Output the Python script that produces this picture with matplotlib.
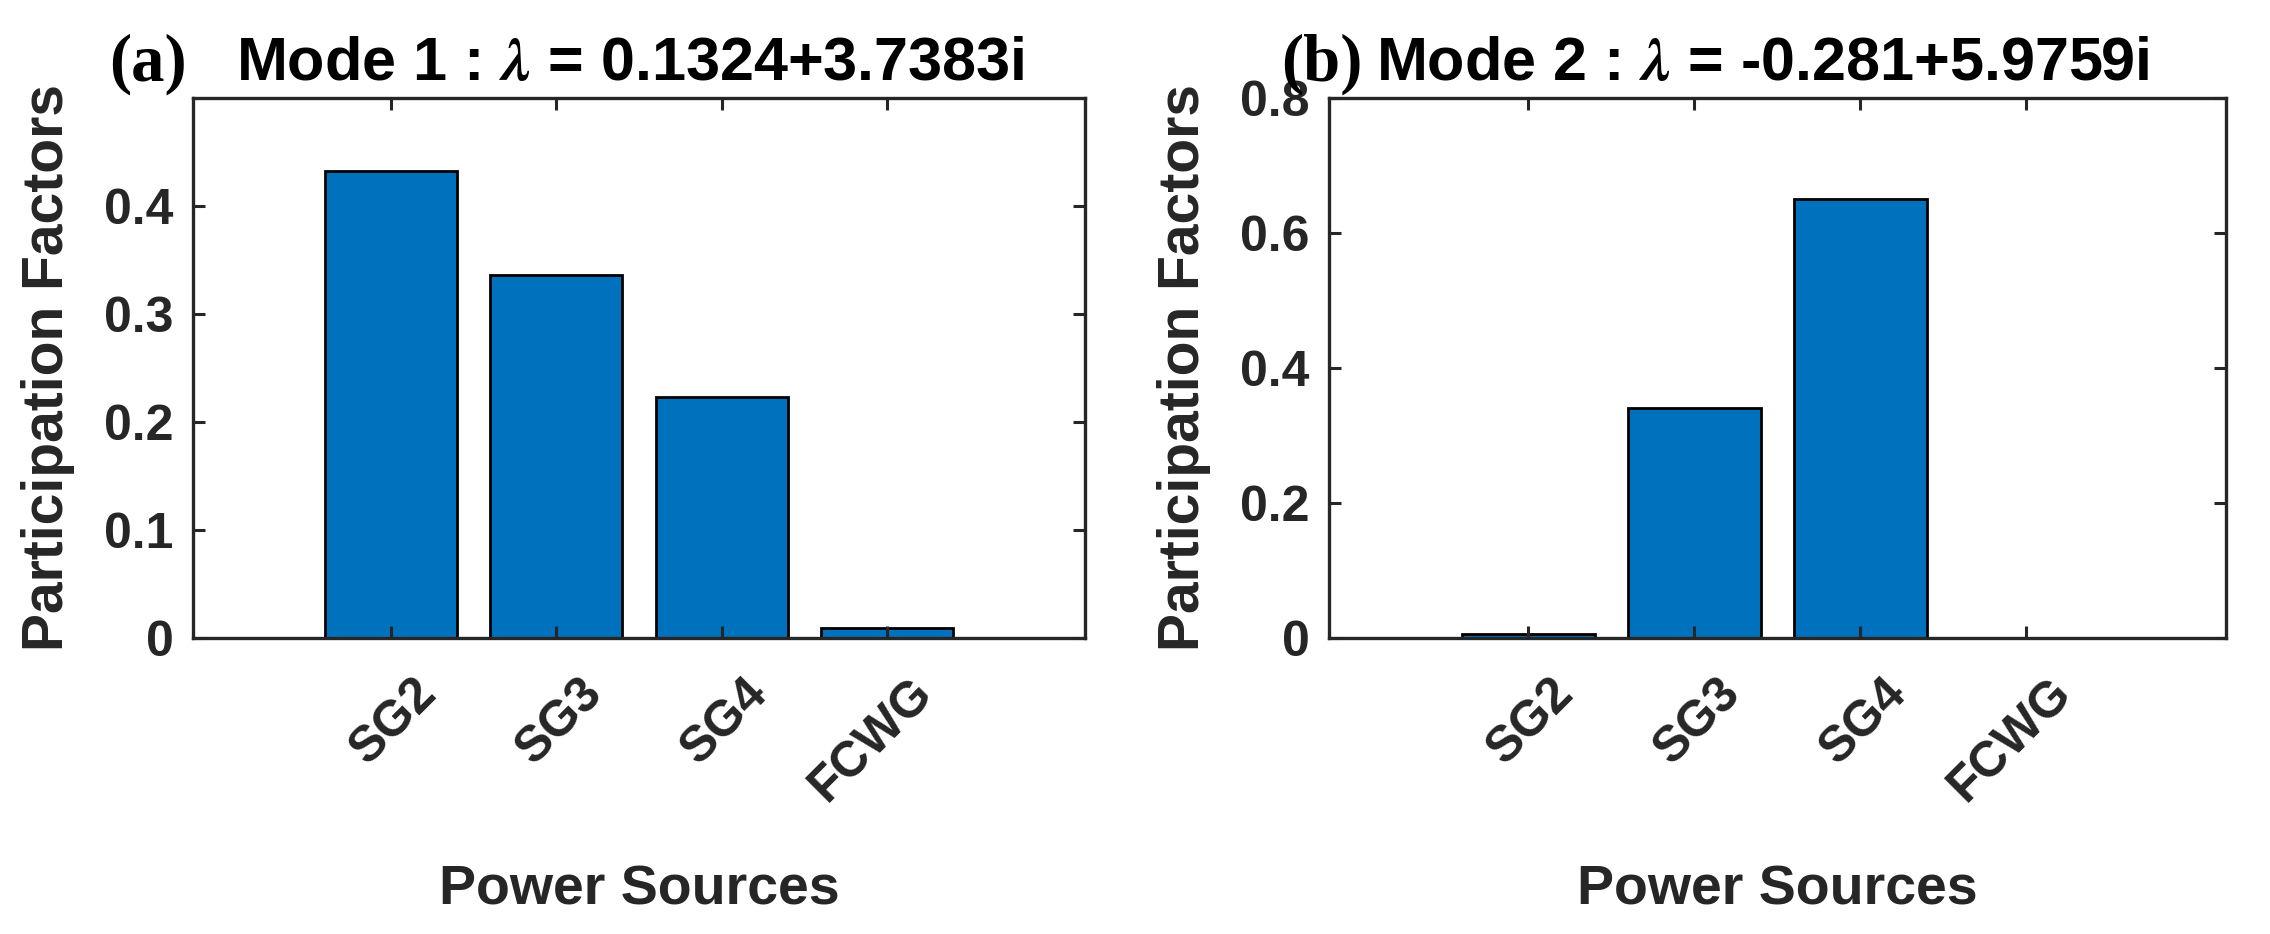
import numpy as np
import matplotlib
matplotlib.use('Agg')
import matplotlib.pyplot as plt
import matplotlib.transforms as mtransforms

plt.rcParams['font.family'] = ['Liberation Sans', 'DejaVu Sans']
plt.rcParams['font.weight'] = 'bold'
plt.rcParams['mathtext.fontset'] = 'stix'

sources = ['SG2', 'SG3', 'SG4', 'FCWG']
positions = [1, 2, 3, 4]
mode1_pf = [0.432, 0.336, 0.223, 0.009]
mode2_pf = [0.006, 0.340, 0.650, 0.0]

panel_tags = ['(a)', '(b)']
mode_titles = [r'Mode 1 : $\lambda$ = 0.1324+3.7383i',
               r'Mode 2 : $\lambda$ = -0.281+5.9759i']
y_limits = [0.5, 0.8]
y_ticks = [[0, 0.1, 0.2, 0.3, 0.4], [0, 0.2, 0.4, 0.6, 0.8]]
y_ticklabels = [['0', '0.1', '0.2', '0.3', '0.4'], ['0', '0.2', '0.4', '0.6', '0.8']]

TXT = '#262626'
BAR = '#0072BD'

fig = plt.figure(figsize=(22.7, 9.34), dpi=100)
fig.patch.set_facecolor('white')

ax_rects = [[0.085, 0.317, 0.393, 0.578], [0.5855, 0.317, 0.395, 0.578]]
tag_x = [0.065, 0.5825]
title_x = [0.104, 0.606]

# shift rotated tick labels a little to the right, like MATLAB does
shift = mtransforms.ScaledTranslation(0.22, 0, fig.dpi_scale_trans)

for i, values in enumerate([mode1_pf, mode2_pf]):
    ax = fig.add_axes(ax_rects[i])
    ax.bar(positions, values, width=0.8, color=BAR, edgecolor='black', linewidth=2.0)
    ax.set_xlim(-0.2, 5.2)
    ax.set_ylim(0, y_limits[i])
    ax.set_yticks(y_ticks[i])
    ax.set_yticklabels(y_ticklabels[i])
    ax.set_xticks(positions)
    ax.set_xticklabels(sources, rotation=45, ha='right', va='top',
                       rotation_mode='anchor')
    ax.tick_params(axis='both', direction='in', length=8.5, width=2.2,
                   color=TXT, labelcolor=TXT, labelsize=36,
                   top=True, right=True)
    ax.tick_params(axis='x', pad=23)
    ax.tick_params(axis='y', pad=14)
    for lab in ax.get_xticklabels():
        lab.set_transform(lab.get_transform() + shift)
    for sp in ax.spines.values():
        sp.set_linewidth(2.4)
        sp.set_color(TXT)
    ax.set_ylabel('Participation Factors', fontsize=41, fontweight='bold', color=TXT)
    ax.set_xlabel('Power Sources', fontsize=40, fontweight='bold', color=TXT)
    ax.yaxis.set_label_coords(-0.132, 0.5)
    ax.xaxis.set_label_coords(0.5, -0.42)

    fig.text(tag_x[i], 0.914, panel_tags[i], fontsize=48, family='Liberation Serif',
             fontweight='bold', ha='center', va='baseline', color='black')
    fig.text(title_x[i], 0.914, mode_titles[i], fontsize=44, fontweight='bold',
             ha='left', va='baseline', color='black')

fig.savefig('out.png', dpi=100)
